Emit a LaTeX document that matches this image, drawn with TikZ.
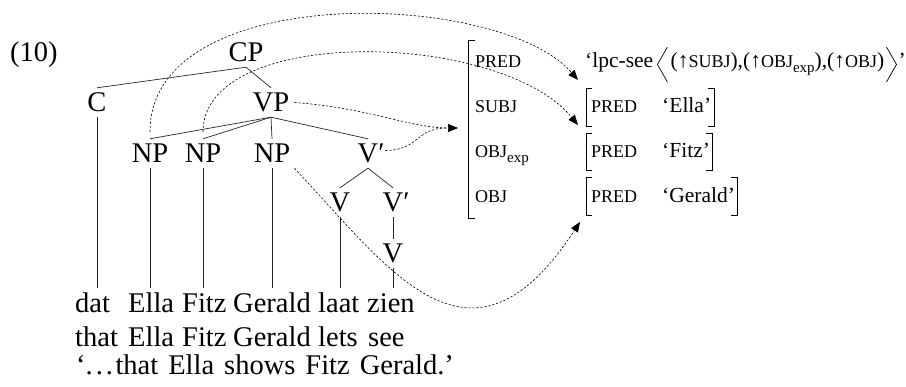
\documentclass[tikz,border=0pt]{standalone}
\usepackage{fontspec}
\setmainfont{Liberation Serif}
\usetikzlibrary{arrows.meta}
\newcommand\fsz[1]{\fontsize{#1}{#1}\selectfont}
\newcommand\smc[1]{{\fsz{18}#1}}
\newcommand\subexp{\raisebox{-4.5pt}{\fsz{15}exp}}
\begin{document}
\begin{tikzpicture}[x=1pt,y=-1pt,
  tree/.style={font=\fsz{28.5}, inner xsep=1pt, inner ysep=5pt, text height=19pt, text depth=0pt, anchor=base},
  word/.style={font=\fsz{28.5}, anchor=base west, inner sep=0pt},
  lab/.style={font=\fsz{18}, anchor=base west, inner sep=0pt},
  val/.style={font=\fsz{21.5}, anchor=base west, inner sep=0pt},
  edge/.style={line width=0.7pt, draw=black!85},
  brk/.style={line width=0.7pt},
  dep/.style={line width=0.6pt, dash pattern=on 2.2pt off 1.8pt},
  tip/.style={-{Triangle[length=10pt,width=8pt]}}
]
\useasboundingbox (0,0) rectangle (906,387);

% example number
\node[word] (num) at (10,62) {(10)};

% tree
\node[tree] (CP) at (246,62) {CP};
\node[tree] (C) at (97,112) {C};
\node[tree] (VP) at (271,112) {VP};
\node[tree] (NPa) at (150,163) {NP};
\node[tree] (NPb) at (203,163) {NP};
\node[tree] (NPc) at (272,163) {NP};
\node[tree] (Vb) at (368,163) {V\rlap{′}};
\node[tree] (Va) at (340,212) {V};
\node[tree] (Vc) at (393,212) {V\rlap{′}};
\node[tree] (Vd) at (393,263) {V};

\coordinate (wt) at (0,288);

\draw[edge] (CP.south) -- (C.north);
\draw[edge] (CP.south) -- (VP.north);
\draw[edge] (VP.south) -- (NPa.north);
\draw[edge] (VP.south) -- (NPb.north);
\draw[edge] (VP.south) -- (NPc.north);
\draw[edge] (VP.south) -- (Vb.north);
\draw[edge] (Vb.south) -- (Va.north);
\draw[edge] (Vb.south) -- (Vc.north);
\draw[edge] (Vc.south) -- (Vd.north);
\foreach \n in {C,NPa,NPb,NPc,Va,Vd}
  \draw[edge] (\n.south) -- (\n.south |- wt);

% words
\node[word] (w1) at (75,313) {dat};
\node[word] (w2) at (128,313) {Ella};
\node[word] (w3) at (182,313) {Fitz};
\node[word] (w4) at (233,313) {Gerald};
\node[word] (w5) at (318,313) {laat};
\node[word] (w6) at (367,313) {zien};
\node[word] (g1) at (75,347) {that};
\node[word] (g2) at (128,347) {Ella};
\node[word] (g3) at (182,347) {Fitz};
\node[word] (g4) at (233,347) {Gerald};
\node[word] (g5) at (318,347) {lets};
\node[word] (g6) at (368,347) {see};
\node[word] (tr) at (76,375) {‘.\kern3pt.\kern3pt.\kern2.5pt that\hspace{10pt}Ella\hspace{10pt}shows\hspace{10pt}Fitz\hspace{10pt}Gerald.’};

% f-structure
\draw[brk] (475,40) -| (468,218) -- (475,218);
\node[lab] (lPRED) at (475,68) {PRED};
\node[lab] (lSUBJ) at (475,113) {SUBJ};
\node[lab] (lOBJe) at (475,158) {OBJ\subexp};
\node[lab] (lOBJ) at (475,203) {OBJ};

\node[val] (lpc) at (585,68) {‘lpc-see};
\draw[brk] ([xshift=14pt,yshift=21pt]lpc.base east) -- ([xshift=4pt,yshift=3.5pt]lpc.base east) -- ([xshift=14pt,yshift=-14pt]lpc.base east);
\node[val] (args) at ([xshift=17pt]lpc.base east) {(↑\smc{SUBJ}),(↑\smc{OBJ}\subexp),(↑\smc{OBJ})};
\draw[brk] ([xshift=2pt,yshift=21pt]args.base east) -- ([xshift=12pt,yshift=3.5pt]args.base east) -- ([xshift=2pt,yshift=-14pt]args.base east);
\node[val] (q) at ([xshift=14pt]args.base east) {’};

\draw[brk] (592,88) -| (586,126) -- (592,126);
\draw[brk] (708,88) -| (714,126) -- (708,126);
\node[lab] (pE) at (591,113) {PRED};
\node[val] (vE) at (662,113) {‘Ella’};

\draw[brk] (592,133) -| (586,170) -- (592,170);
\draw[brk] (706,133) -| (712,170) -- (706,170);
\node[lab] (pF) at (591,158) {PRED};
\node[val] (vF) at (662,158) {‘Fitz’};

\draw[brk] (592,177) -| (586,215) -- (592,215);
\draw[brk] (731,177) -| (737,215) -- (731,215);
\node[lab] (pG) at (591,203) {PRED};
\node[val] (vG) at (662,203) {‘Gerald’};

% correspondence arrows
\coordinate (tE) at (578,80);
\coordinate (tF) at (578,125);
\coordinate (tG) at (580,222);
\coordinate (tA) at (458,128);
\coordinate (jA) at (447,128);

\draw[dep,tip] ([yshift=7pt]NPa.north) .. controls (150,-20) and (500,-10) .. (tE);
\draw[dep,tip] ([yshift=7pt]NPb.north) .. controls (203,25) and (500,30) .. (tF);
\draw[dep,tip] ([xshift=4pt]VP.east) .. controls (370,108) and (410,128) .. (tA);
\draw[dep] ([xshift=6pt,yshift=3pt]Vb.east) .. controls (420,150) and (415,128) .. (jA);
\draw[dep,tip] ([xshift=3pt]NPc.south east) .. controls (390,270) and (470,390) .. (tG);
\end{tikzpicture}
\end{document}
